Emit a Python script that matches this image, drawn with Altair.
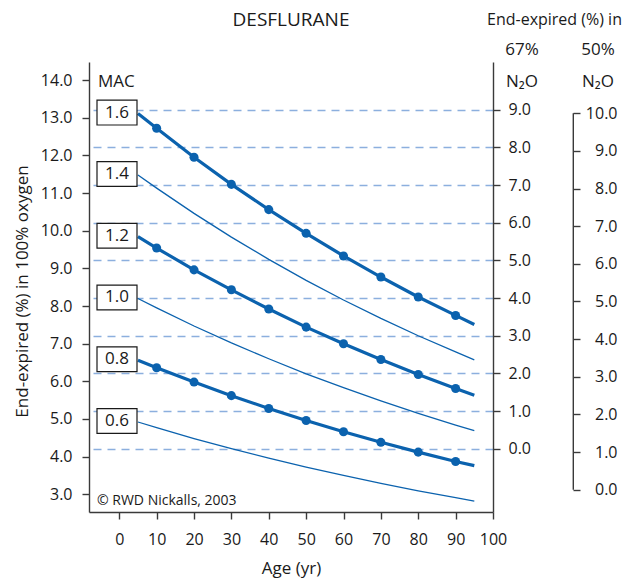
import altair as alt
import pandas as pd

# ---------------- data ----------------
ages = [5, 10, 20, 30, 40, 50, 60, 70, 80, 90, 95]
mac_labels = ["1.6", "1.4", "1.2", "1.0", "0.8", "0.6"]
mac_16 = [13.11, 12.72, 11.95, 11.23, 10.56, 9.93, 9.33, 8.77, 8.24, 7.75, 7.51]
mac_14 = [11.48, 11.13, 10.46, 9.83, 9.24, 8.68, 8.16, 7.67, 7.21, 6.78, 6.57]
mac_12 = [9.84, 9.54, 8.96, 8.43, 7.92, 7.44, 7.00, 6.58, 6.18, 5.81, 5.63]
mac_10 = [8.20, 7.95, 7.47, 7.02, 6.60, 6.20, 5.83, 5.48, 5.15, 4.84, 4.69]
mac_08 = [6.56, 6.36, 5.98, 5.62, 5.28, 4.96, 4.66, 4.38, 4.12, 3.87, 3.76]
mac_06 = [4.92, 4.77, 4.48, 4.21, 3.96, 3.72, 3.50, 3.29, 3.09, 2.91, 2.82]
mac_series = [mac_16, mac_14, mac_12, mac_10, mac_08, mac_06]
thick_labels = ["1.6", "1.2", "0.8"]
marked_ages = [10, 20, 30, 40, 50, 60, 70, 80, 90]

x_ticks = [0, 10, 20, 30, 40, 50, 60, 70, 80, 90, 100]
left_ticks = [3, 4, 5, 6, 7, 8, 9, 10, 11, 12, 13, 14]
n2o67_ticks = [0, 1, 2, 3, 4, 5, 6, 7, 8, 9]
n2o50_ticks = [0, 1, 2, 3, 4, 5, 6, 7, 8, 9, 10]

# offsets of the right-hand scales relative to the 100 % O2 scale
left_domain = [2.53, 14.48]
off67 = 4.21
off50 = 3.12

# ---------------- tables ----------------
rows = []
for lab, vals in zip(mac_labels, mac_series):
    for a, v in zip(ages, vals):
        rows.append({"age": a, "value": v, "mac": lab,
                     "kind": "thick" if lab in thick_labels else "thin"})
df = pd.DataFrame(rows)
df_thick = df[df.kind == "thick"]
df_thin = df[df.kind == "thin"]
df_pts = df_thick[df_thick.age.isin(marked_ages)]
df_box = pd.DataFrame({"mac": mac_labels, "value": [s[0] for s in mac_series]})

BLUE = "#0b62ae"
FONT = "Open Sans"
INK = "#1a1a1a"
AX = "#3a3a3a"

W, H = 404, 450

x_enc = alt.X(
    "age:Q",
    scale=alt.Scale(domain=[-8.1, 100], nice=False, zero=False),
    axis=alt.Axis(values=x_ticks, title="Age (yr)", titleX=202, titleY=56,
                  titleAlign="center", titleBaseline="middle",
                  tickSize=7, labelPadding=12, grid=False, labelFlush=False),
)
y_enc = alt.Y(
    "value:Q",
    scale=alt.Scale(domain=left_domain, nice=False, zero=False),
    axis=alt.Axis(values=left_ticks, format=".1f",
                  title="End-expired (%) in 100% oxygen",
                  titleX=-67, titleY=229, titleAngle=270,
                  titleAlign="center", titleBaseline="middle",
                  tickSize=7, labelPadding=10, grid=False),
)

thin = alt.Chart(df_thin).mark_line(color=BLUE, strokeWidth=1.3).encode(
    x=x_enc, y=y_enc, detail="mac:N")
thick = alt.Chart(df_thick).mark_line(color=BLUE, strokeWidth=3.2).encode(
    x=x_enc, y=y_enc, detail="mac:N")
pts = alt.Chart(df_pts).mark_circle(color=BLUE, size=82, opacity=1).encode(
    x=x_enc, y=y_enc)
box_shape = "M-1,-0.62L1,-0.62L1,0.62L-1,0.62Z"
boxes = alt.Chart(df_box).mark_point(
    shape=box_shape, size=1600, filled=True, fill="white", stroke=INK,
    strokeWidth=1.2, opacity=1, yOffset=-1).encode(
    x=alt.value(28), y=y_enc)
box_txt = alt.Chart(df_box).mark_text(
    fontSize=17, color=INK, align="center", baseline="middle", dy=-1).encode(
    x=alt.value(28), y=y_enc, text="mac:N")

main = alt.layer(thin, thick, boxes, box_txt, pts)

# right axis: 67 % N2O (with dashed grid)
df_a1 = pd.DataFrame({"n2o67": n2o67_ticks})
axis67 = alt.Chart(df_a1).mark_point(opacity=0).encode(
    y=alt.Y("n2o67:Q",
            scale=alt.Scale(domain=[left_domain[0] - off67, left_domain[1] - off67],
                            nice=False, zero=False),
            axis=alt.Axis(orient="right", values=n2o67_ticks, format=".1f",
                          grid=True, gridColor="#8cafde", gridDash=[8, 6],
                          gridWidth=1.5, tickSize=7, labelPadding=8, title=None)))

# second right axis: 50 % N2O
df_a2 = pd.DataFrame({"lo": [n2o50_ticks[0]], "hi": [n2o50_ticks[-1]]})
axis50 = alt.Chart(df_a2).mark_rule(color=AX, strokeWidth=1.4).encode(
    x=alt.value(484.3),
    y=alt.Y("lo:Q",
            scale=alt.Scale(domain=[left_domain[0] - off50, left_domain[1] - off50],
                            nice=False, zero=False),
            axis=alt.Axis(orient="right", offset=80, values=n2o50_ticks,
                          format=".1f", domain=False, grid=False, tickSize=7,
                          labelPadding=37, labelAlign="right", title=None)),
    y2="hi:Q")


def note(txt, px, py, size=16, align="center"):
    return alt.Chart(pd.DataFrame({"t": [txt]})).mark_text(
        fontSize=size, color=INK, align=align, baseline="middle").encode(
        x=alt.value(px), y=alt.value(py), text="t:N")


notes = alt.layer(
    note("DESFLURANE", 202, -42, 19),
    note("End-expired (%) in", 398, -42, 16, "left"),
    note("67%", 433, -12, 17),
    note("50%", 509, -12, 17),
    note("N₂O", 433, 20, 17),
    note("N₂O", 509, 20, 17),
    note("MAC", 9, 20, 17, "left"),
    note("© RWD Nickalls, 2003", 8, 439, 14, "left"),
)

chart = alt.layer(main, axis67, axis50, notes).resolve_scale(
    y="independent"
).properties(
    width=W, height=H,
    autosize=alt.AutoSizeParams(type="none"),
    padding={"left": 89, "top": 62, "right": 147, "bottom": 68},
).configure_view(stroke=None).configure_axis(
    labelFont=FONT, titleFont=FONT, labelFontSize=16, titleFontSize=17,
    titleFontWeight="normal", labelColor=INK, titleColor=INK,
    domainColor=AX, tickColor=AX, domainWidth=1.4, tickWidth=1.4,
).configure_text(font=FONT)

chart.save("out.html", embed_options={"renderer": "svg", "actions": False})
